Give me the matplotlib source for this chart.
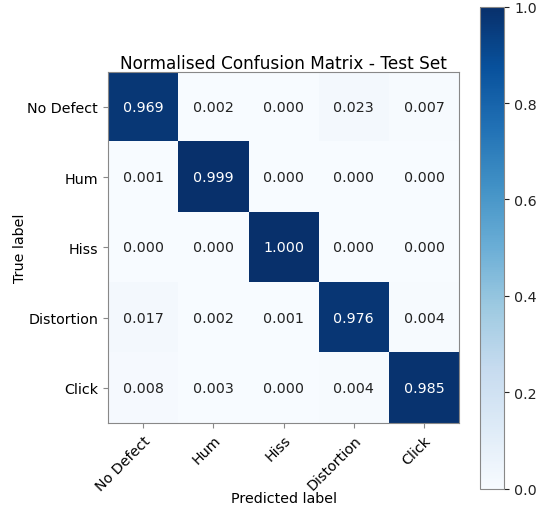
import numpy as np
import matplotlib
matplotlib.use("Agg")
import matplotlib.pyplot as plt

classes = ["No Defect", "Hum", "Hiss", "Distortion", "Click"]
cm = np.array([
    [0.969, 0.002, 0.000, 0.023, 0.007],
    [0.001, 0.999, 0.000, 0.000, 0.000],
    [0.000, 0.000, 1.000, 0.000, 0.000],
    [0.017, 0.002, 0.001, 0.976, 0.004],
    [0.008, 0.003, 0.000, 0.004, 0.985],
])

fig = plt.figure(figsize=(5.37, 5.06), dpi=100)
ax = fig.add_axes([0.201, 0.162, 0.654, 0.694])
cax = fig.add_axes([0.894, 0.032, 0.045, 0.953])

im = ax.imshow(cm, interpolation="nearest", cmap="Blues", vmin=0, vmax=1)
cb = fig.colorbar(im, cax=cax)
cb.ax.tick_params(labelsize=10.3, colors="#222222")
cb.outline.set_edgecolor("#888888")

ax.set_title("Normalised Confusion Matrix - Test Set", fontsize=12.2, pad=3)
ticks = np.arange(len(classes))
ax.set_xticks(ticks)
ax.set_xticklabels(classes, rotation=45, ha="right", rotation_mode="anchor", fontsize=10.3)
ax.set_yticks(ticks)
ax.set_yticklabels(classes, fontsize=10.3)
ax.set_ylabel("True label", fontsize=10.3, labelpad=0)
ax.set_xlabel("Predicted label", fontsize=10.3, labelpad=-1)
for s in ax.spines.values():
    s.set_edgecolor("#888888")
ax.tick_params(color="#888888")

thresh = cm.max() / 2.0
for i in range(cm.shape[0]):
    for j in range(cm.shape[1]):
        ax.text(j, i, format(cm[i, j], ".3f"), ha="center", va="center", fontsize=10.3,
                color="white" if cm[i, j] > thresh else "#222222")

fig.savefig("out.png", dpi=100)
